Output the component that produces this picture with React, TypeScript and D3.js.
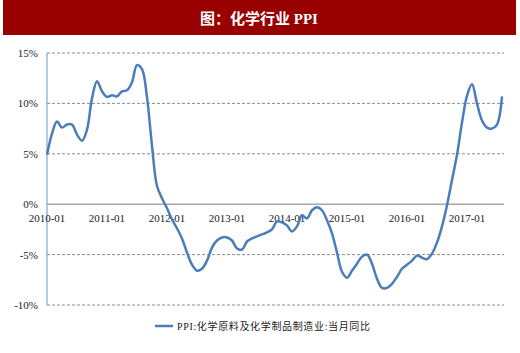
import React, { useRef, useEffect } from 'react';
import * as d3 from 'd3';

// monthly yoy %, 2010-01 .. 2017-08
const ppiValues: number[] = [
  4.9, 7.0, 8.2, 7.6, 7.9, 7.9, 6.9, 6.3, 7.4, 10.5, 12.2, 11.2,
  10.65, 10.8, 10.7, 11.2, 11.3, 12.1, 13.8, 13.4, 10.6, 5.8, 1.8, 0.6,
  -0.4, -1.5, -2.4, -3.4, -4.8, -6.0, -6.6, -6.4, -5.6, -4.3, -3.6, -3.3,
  -3.3, -3.6, -4.4, -4.5, -3.7, -3.4, -3.2, -3.0, -2.8, -2.5, -1.7, -1.8,
  -2.1, -2.7, -2.2, -1.1, -1.4, -0.6, -0.3, -0.6, -1.6, -2.9, -4.8, -6.7,
  -7.3, -6.6, -5.9, -5.2, -5.0, -5.9, -7.4, -8.3, -8.3, -7.9, -7.2, -6.4,
  -6.0, -5.6, -5.1, -5.3, -5.45, -4.9, -3.8, -2.2, -0.1, 2.4, 4.9, 8.1,
  10.75, 11.9, 10.0, 8.3, 7.6, 7.5, 7.9, 10.7,
];
const xTickLabels = ['2010-01', '2011-01', '2012-01', '2013-01', '2014-01', '2015-01', '2016-01', '2017-01'];
const yTicks = [15, 10, 5, 0, -5, -10];
const titleText = '图：化学行业 PPI';
const legendText = 'PPI:化学原料及化学制品制造业:当月同比';

const App: React.FC = () => {
  const svgRef = useRef<SVGSVGElement>(null);

  useEffect(() => {
    if (!svgRef.current) return;
    const svg = d3.select(svgRef.current);
    svg.selectAll('*').remove();

    const left = 47;
    const right = 504;
    const xScale = d3.scaleLinear().domain([0, 12]).range([left, left + 60]);
    const yScale = d3.scaleLinear().domain([-10, 15]).range([305, 53]);

    // title bar
    svg.append('rect')
      .attr('x', 3).attr('y', 0).attr('width', 513).attr('height', 35)
      .attr('fill', '#990000');
    svg.append('text')
      .attr('x', 259).attr('y', 24)
      .attr('text-anchor', 'middle')
      .attr('fill', '#fff')
      .style('font-family', '"Liberation Serif", "Noto Sans CJK SC", serif')
      .style('font-weight', 'bold')
      .style('font-size', '15px')
      .text(titleText);

    const g = svg.append('g');

    // grid lines
    g.selectAll('.grid')
      .data(yTicks)
      .enter().append('line')
      .attr('x1', left).attr('x2', right)
      .attr('y1', (d: number) => yScale(d)).attr('y2', (d: number) => yScale(d))
      .attr('stroke', (d: number) => (d === 0 ? '#a6a6a6' : '#8c8c8c'))
      .attr('stroke-width', (d: number) => (d === 0 ? 1.5 : 1))
      .attr('stroke-dasharray', (d: number) => (d === 0 ? null : '3,2'));

    // y axis line
    g.append('line')
      .attr('x1', left).attr('x2', left)
      .attr('y1', yScale(15)).attr('y2', yScale(-10))
      .attr('stroke', '#7fa6d6').attr('stroke-width', 1.2);

    // y labels
    g.selectAll('.ylab')
      .data(yTicks)
      .enter().append('text')
      .attr('x', 38)
      .attr('y', (d: number) => yScale(d) + 4)
      .attr('text-anchor', 'end')
      .style('font-family', '"Liberation Serif", serif')
      .style('font-size', '11px')
      .attr('fill', '#222')
      .text((d: number) => `${d}%`);

    // x labels
    g.selectAll('.xlab')
      .data(xTickLabels)
      .enter().append('text')
      .attr('x', (_d: string, i: number) => xScale(i * 12))
      .attr('y', yScale(0) + 18)
      .attr('text-anchor', 'middle')
      .style('font-family', '"Liberation Serif", serif')
      .style('font-size', '11px')
      .attr('fill', '#222')
      .text((d: string) => d);

    // series
    const line = d3.line<number>()
      .x((_d: number, i: number) => xScale(i))
      .y((d: number) => yScale(d))
      .curve(d3.curveCatmullRom.alpha(0.5));

    g.append('path')
      .datum(ppiValues)
      .attr('d', line)
      .attr('fill', 'none')
      .attr('stroke', '#4a7ebb')
      .attr('stroke-width', 2.5)
      .attr('stroke-linejoin', 'round');

    // legend
    svg.append('line')
      .attr('x1', 155).attr('x2', 173).attr('y1', 326).attr('y2', 326)
      .attr('stroke', '#4a7ebb').attr('stroke-width', 2.5);
    svg.append('text')
      .attr('x', 177).attr('y', 330)
      .attr('textLength', 193)
      .style('font-family', '"Liberation Serif", "Noto Sans CJK SC", serif')
      .style('font-size', '10px')
      .attr('fill', '#222')
      .text(legendText);
  }, []);

  return (
    <div style={{ position: 'absolute', left: 0, top: 0 }}>
      <svg ref={svgRef} width={520} height={353} style={{ display: 'block', background: '#fff' }}></svg>
    </div>
  );
};

export default App;
